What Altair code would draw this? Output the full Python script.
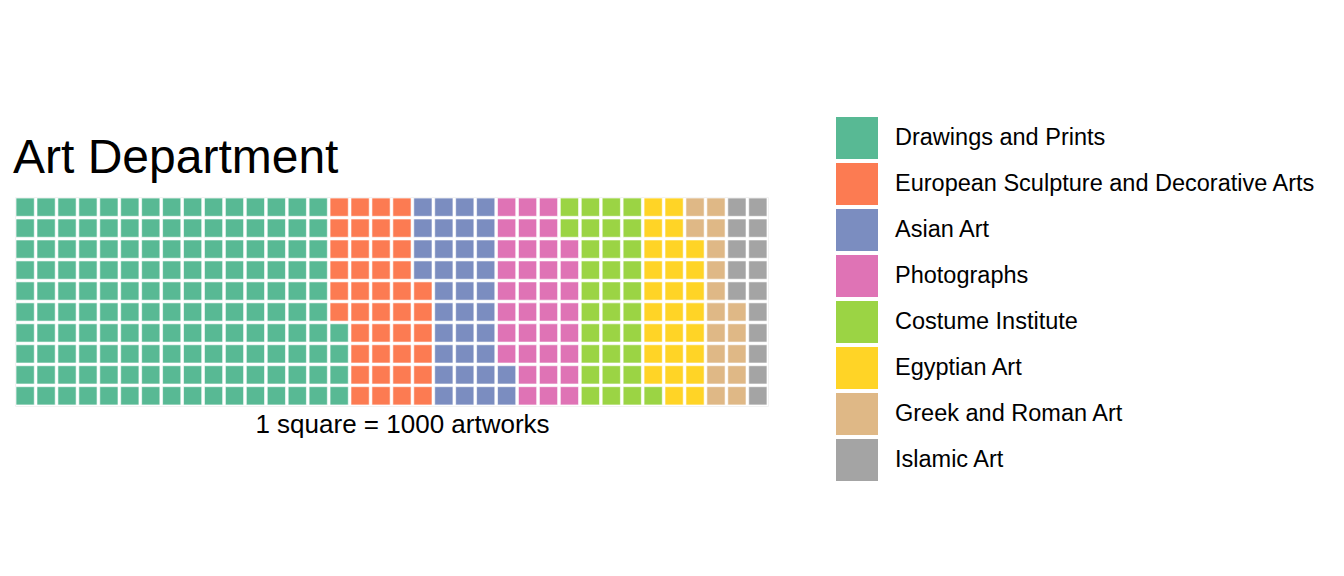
import altair as alt
import pandas as pd

departments = [
    "Drawings and Prints",
    "European Sculpture and Decorative Arts",
    "Asian Art",
    "Photographs",
    "Costume Institute",
    "Egyptian Art",
    "Greek and Roman Art",
    "Islamic Art",
]
squares = [154, 42, 36, 36, 33, 27, 17, 15]  # 1 square = 1000 artworks
colors = ["#58b994", "#fc7b52", "#7b8dc0", "#df73b5", "#9bd444", "#ffd426", "#dfb886", "#a4a4a4"]
n_rows = 10

records = []
i = 0
for dep, n in zip(departments, squares):
    for _ in range(n):
        records.append({"col": i // n_rows, "row": i % n_rows, "Department": dep})
        i += 1
df = pd.DataFrame(records)

FONT = "Liberation Sans"

chart = (
    alt.Chart(df)
    .mark_rect(stroke="white", strokeOpacity=0.6, strokeWidth=1)
    .encode(
        x=alt.X(
            "col:O",
            scale=alt.Scale(paddingInner=0.13, paddingOuter=0.05),
            axis=alt.Axis(
                labels=False, ticks=False, domain=False,
                title="1 square = 1000 artworks",
                titleFontSize=26, titleFontWeight="normal", titleColor="black",
                titleFont=FONT, titlePadding=5, titleX=387,
            ),
        ),
        y=alt.Y(
            "row:O",
            sort="descending",
            scale=alt.Scale(paddingInner=0.13, paddingOuter=0.05),
            axis=None,
        ),
        color=alt.Color(
            "Department:N",
            sort=departments,
            scale=alt.Scale(domain=departments, range=colors),
            legend=alt.Legend(
                title=None,
                orient="none",
                legendX=821,
                legendY=-80,
                symbolType="square",
                symbolSize=1764,
                symbolStrokeWidth=0,
                symbolOpacity=1,
                labelFontSize=23.5,
                labelFont=FONT,
                labelColor="black",
                labelOffset=17,
                rowPadding=4,
                labelLimit=600,
            ),
        ),
    )
    .properties(
        width=753,
        height=209,
        autosize=alt.AutoSizeParams(type="none"),
        padding={"left": 15, "top": 197, "right": 576, "bottom": 170},
        title=alt.TitleParams(
            "Art Department",
            anchor="start",
            fontSize=48,
            fontWeight="normal",
            font=FONT,
            color="black",
            offset=14,
            dy=80,
            dx=-2,
        ),
    )
    .configure_view(stroke="#f2f2f2", strokeWidth=1)
)

chart.save("out.html", embed_options={"renderer": "svg", "actions": False})
